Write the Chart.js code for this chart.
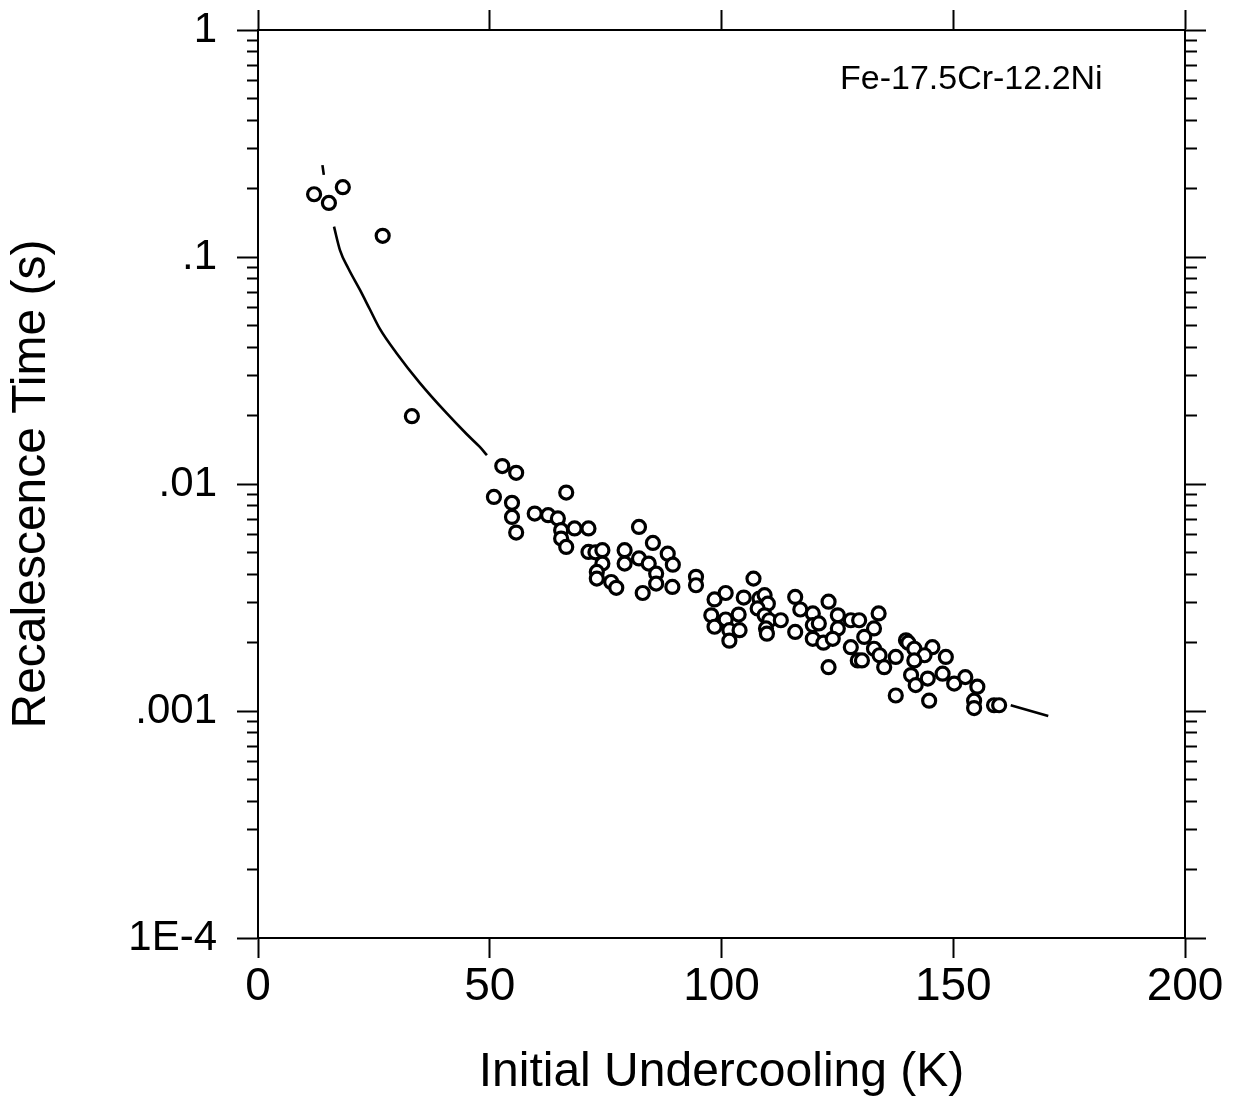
<!DOCTYPE html>
<html><head><meta charset="utf-8">
<script src="https://cdn.jsdelivr.net/npm/chart.js@4.4.0/dist/chart.umd.min.js"></script>
<style>html,body{margin:0;padding:0;background:#fff;}canvas{display:block;}</style>
</head><body>
<canvas id="c" width="1238" height="1104"></canvas>
<script>
const xTickValues = [0, 50, 100, 150, 200];
const xTickLabels = ['0', '50', '100', '150', '200'];
const yDecadeValues = [1e-4, 1e-3, 1e-2, 1e-1, 1];
const yDecadeLabels = ['1E-4', '.001', '.01', '.1', '1'];
const yMinorMultipliers = [2, 3, 4, 5, 6, 7, 8, 9];

const xTitle = 'Initial Undercooling (K)';
const yTitle = 'Recalescence Time (s)';
const annotationText = 'Fe-17.5Cr-12.2Ni';

// measured points: initial undercooling (K) and recalescence time (s)
const undercooling = [
  12.1, 15.3, 18.3, 26.9, 33.2,
  52.7, 55.7, 50.9, 66.5, 54.8, 54.8, 55.7, 59.7, 62.6, 64.7, 65.4, 65.4, 66.5, 68.3, 71.3,
  71.3, 72.8, 74.3, 74.3, 73.1, 73.1, 76.2, 77.3, 82.2, 79.1, 79.1, 82.2, 84.3, 83.0, 85.2,
  85.9, 85.9, 88.4, 89.5, 89.4, 94.5, 94.5, 106.9, 98.5, 100.9, 97.8, 98.5, 100.9, 103.7, 101.7,
  103.9, 101.7, 104.8, 108.2, 109.3, 110.0, 107.8, 109.3, 110.3, 112.8, 109.6, 109.8, 115.9, 117.0, 115.9,
  119.7, 119.7, 119.7, 121.0, 122.0, 123.1, 125.1, 125.1, 124.0, 123.1, 127.9, 129.7, 133.9, 132.9, 130.8,
  127.9, 129.4, 130.3, 132.9, 134.1, 135.1, 139.8, 140.3, 141.6, 145.5, 143.8, 137.6, 141.6, 148.4, 140.9,
  144.5, 147.7, 141.9, 137.6, 144.8, 150.2, 152.6, 155.2, 154.5, 154.5, 158.8, 159.9
];
const recalTime = [
  0.189, 0.173, 0.203, 0.124, 0.0199,
  0.0120, 0.0112, 0.00877, 0.00917, 0.00826, 0.00716, 0.00611, 0.00741, 0.00729, 0.00705, 0.00626, 0.00575, 0.00528, 0.00637, 0.00637,
  0.00502, 0.00500, 0.00511, 0.00446, 0.00410, 0.00383, 0.00370, 0.00349, 0.00647, 0.00511, 0.00446, 0.00470, 0.00446, 0.00331, 0.00550,
  0.00403, 0.00364, 0.00493, 0.00441, 0.00352, 0.00390, 0.00358, 0.00383, 0.00310, 0.00331, 0.00264, 0.00235, 0.00253, 0.00266, 0.00227,
  0.00227, 0.00204, 0.00316, 0.00313, 0.00324, 0.00297, 0.00283, 0.00264, 0.00251, 0.00251, 0.00231, 0.00219, 0.00318, 0.00280, 0.00223,
  0.00269, 0.00239, 0.00208, 0.00243, 0.00200, 0.00303, 0.00264, 0.00231, 0.00208, 0.00156, 0.00251, 0.00251, 0.00269, 0.00231, 0.00212,
  0.00191, 0.00167, 0.00167, 0.00188, 0.00176, 0.00156, 0.00205, 0.00200, 0.00188, 0.00191, 0.00176, 0.00173, 0.00167, 0.00173, 0.00144,
  0.00139, 0.00146, 0.00130, 0.00117, 0.00111, 0.00132, 0.00141, 0.00128, 0.00111, 0.00103, 0.00106, 0.00106
];

// fitted curve (null = break in the drawn line)
const curveUndercooling = [13.9, 14.2, 15.0, 16.4, 17.7, 19.5, 22.0, 24.1, 26.3, 29.9, 34.9, 40.7, 45.0, 47.8, 49.4, 100, 162.4, 170.5];
const curveTime = [0.254, 0.230, null, 0.136, 0.107, 0.0890, 0.0716, 0.0590, 0.0482, 0.0377, 0.0279, 0.0205, 0.0166, 0.0146, 0.0134, null, 0.00106, 0.00095];

const FONT = '"Liberation Sans", Arial, Helvetica, sans-serif';
Chart.defaults.color = '#000';
Chart.defaults.font.family = FONT;

function buildLogTicks() {
  const t = [];
  yDecadeValues.forEach((v, i) => {
    t.push({ value: v, major: true });
    if (i < yDecadeValues.length - 1) {
      yMinorMultipliers.forEach(m => t.push({ value: parseFloat((v * m).toPrecision(3)), major: false }));
    }
  });
  return t;
}
function decadeLabel(v) {
  const i = yDecadeValues.findIndex(d => Math.abs(Math.log10(v / d)) < 1e-6);
  return i >= 0 ? yDecadeLabels[i] : '';
}
function xLabel(v) {
  const i = xTickValues.indexOf(v);
  return i >= 0 ? xTickLabels[i] : '';
}

const annotationPlugin = {
  id: 'annot',
  afterDraw(chart) {
    const { ctx, scales: { x, y } } = chart;
    ctx.save();
    ctx.font = '34px ' + FONT;
    ctx.fillStyle = '#000';
    ctx.textAlign = 'center';
    ctx.textBaseline = 'middle';
    ctx.fillText(annotationText, x.getPixelForValue(153.9), y.getPixelForValue(0.605));
    ctx.restore();
  }
};

const isMajor = ctx => ctx.tick && ctx.tick.major;
const noPadV = s => { s.paddingTop = 0; s.paddingBottom = 0; };
const noPadH = s => { s.paddingLeft = 0; s.paddingRight = 0; };

new Chart(document.getElementById('c'), {
  type: 'scatter',
  data: {
    datasets: [
      {
        label: 'data',
        data: undercooling.map((u, i) => ({ x: u, y: recalTime[i] })),
        pointStyle: 'circle',
        pointRadius: 6.5,
        pointBorderWidth: 3.2,
        pointBorderColor: '#000',
        pointBackgroundColor: '#fff',
        showLine: false,
        order: 1
      },
      {
        label: 'fit',
        data: curveUndercooling.map((u, i) => ({ x: u, y: curveTime[i] })),
        showLine: true,
        borderColor: '#000',
        borderWidth: 2.6,
        pointRadius: 0,
        spanGaps: false,
        cubicInterpolationMode: 'monotone',
        fill: false,
        order: 2
      }
    ]
  },
  options: {
    responsive: false,
    animation: false,
    devicePixelRatio: 1,
    layout: { padding: 0 },
    plugins: { legend: { display: false }, tooltip: { enabled: false } },
    scales: {
      x: {
        type: 'linear', position: 'bottom', min: 0, max: 200,
        afterBuildTicks: s => { s.ticks = xTickValues.map(v => ({ value: v })); },
        afterFit: s => { s.height = 166; noPadH(s); },
        ticks: { autoSkip: false, maxRotation: 0, padding: 2, font: { size: 46 }, color: '#000', callback: v => xLabel(v) },
        grid: { drawOnChartArea: false, tickLength: 20, tickWidth: 2, tickColor: '#000' },
        border: { display: true, color: '#000', width: 2 },
        title: { display: true, text: xTitle, font: { size: 48 }, color: '#000', padding: { top: 0, bottom: 2 } }
      },
      x2: {
        type: 'linear', position: 'top', min: 0, max: 200,
        afterBuildTicks: s => { s.ticks = xTickValues.map(v => ({ value: v })); },
        afterFit: s => { s.height = 30; noPadH(s); },
        ticks: { display: false },
        grid: { drawOnChartArea: false, tickLength: 20, tickWidth: 2, tickColor: '#000' },
        border: { display: true, color: '#000', width: 2 }
      },
      y: {
        type: 'logarithmic', position: 'left', min: 1e-4, max: 1,
        afterBuildTicks: s => { s.ticks = buildLogTicks(); },
        afterFit: s => { s.width = 258; noPadV(s); },
        ticks: { autoSkip: false, padding: 20, font: { size: 42 }, color: '#000', callback: v => decadeLabel(v) },
        grid: {
          drawOnChartArea: false, tickLength: 21, tickWidth: 2, tickColor: '#000',
          tickBorderDash: ctx => isMajor(ctx) ? [] : [10, 10],
          tickBorderDashOffset: ctx => isMajor(ctx) ? 0 : 10
        },
        border: { display: true, color: '#000', width: 2 },
        title: { display: true, text: yTitle, font: { size: 48 }, color: '#000', padding: { top: 3, bottom: 0 } }
      },
      y2: {
        type: 'logarithmic', position: 'right', min: 1e-4, max: 1,
        afterBuildTicks: s => { s.ticks = buildLogTicks(); },
        afterFit: s => { s.width = 53; noPadV(s); },
        ticks: { display: false, autoSkip: false },
        grid: {
          drawOnChartArea: false, tickLength: 21, tickWidth: 2, tickColor: '#000',
          tickBorderDash: ctx => isMajor(ctx) ? [] : [11, 50],
          tickBorderDashOffset: 0
        },
        border: { display: true, color: '#000', width: 2 }
      }
    }
  },
  plugins: [annotationPlugin]
});
</script>
</body></html>
